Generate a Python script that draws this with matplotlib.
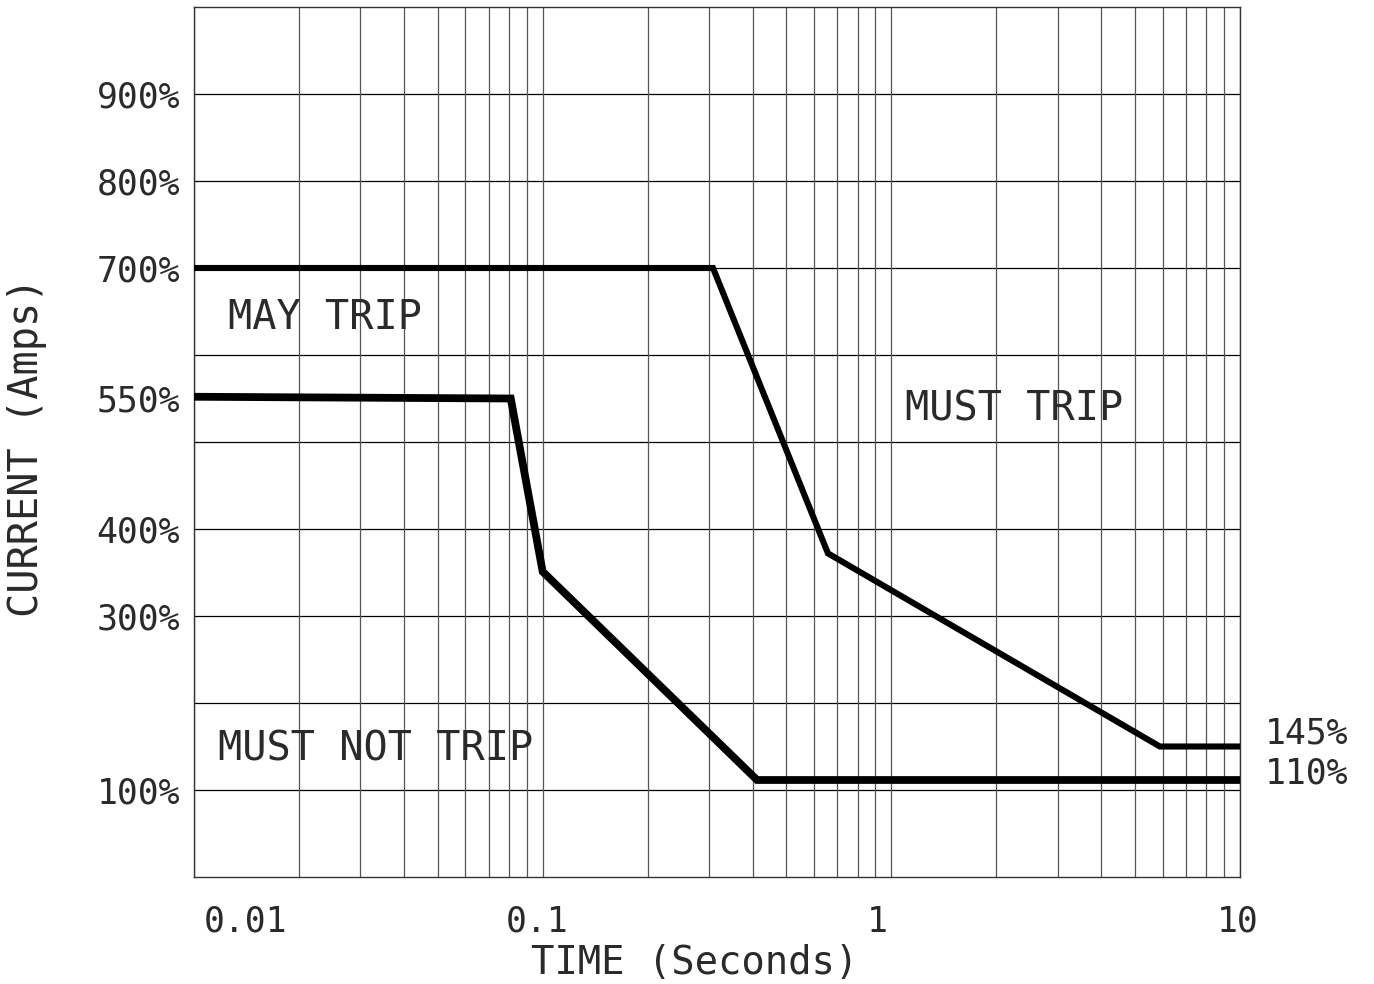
import matplotlib
matplotlib.use("Agg")
import matplotlib.pyplot as plt
import matplotlib.transforms as mtransforms
from matplotlib.ticker import FixedLocator, NullFormatter

# ---- data ----
upper_time = [0.01, 0.308, 0.658, 5.89, 10]
upper_current = [700, 700, 372, 150, 150]

lower_time = [0.01, 0.081, 0.1, 0.412, 10]
lower_current = [552, 550, 351, 111.5, 111.5]

x_ticks = [0.01, 0.1, 1, 10]
x_tick_labels = ["0.01", "0.1", "1", "10"]
y_ticks = [100, 300, 400, 550, 700, 800, 900]
y_tick_labels = ["100%", "300%", "400%", "550%", "700%", "800%", "900%"]
y_grid = [100, 200, 300, 400, 500, 600, 700, 800, 900]
x_minor = [m * d for d in [0.01, 0.1, 1] for m in range(2, 10)]

FONT = ["DejaVu Sans Mono"]
TXT = "#2a2a2a"

fig = plt.figure(figsize=(13.74, 9.84), dpi=100)
ax = fig.add_axes([194/1374, 107/984, (1240-194)/1374, (877-7)/984])

ax.set_xscale("log")
ax.set_xlim(0.01, 10)
ax.set_ylim(0, 1000)

ax.xaxis.set_major_locator(FixedLocator(x_ticks))
ax.xaxis.set_minor_locator(FixedLocator(x_minor))
ax.xaxis.set_minor_formatter(NullFormatter())
ax.set_xticklabels(x_tick_labels, fontfamily=FONT, fontsize=25, color=TXT)
ax.set_yticks(y_ticks)
ax.set_yticklabels(y_tick_labels, fontfamily=FONT, fontsize=25, color=TXT)

ax.tick_params(axis="both", which="both", length=0)
ax.tick_params(axis="x", pad=20)
ax.tick_params(axis="y", pad=10)

ax.grid(True, axis="x", which="both", color="#555555", linewidth=0.9)
for yv in y_grid:
    ax.axhline(yv, color="black", linewidth=0.9, zorder=1)
for s in ax.spines.values():
    s.set_linewidth(1.0)
    s.set_color("#333333")

# shift x tick labels to match reference placement
offsets_px = [52, -6, -14, -2]
for lab, dx in zip(ax.get_xticklabels(), offsets_px):
    lab.set_transform(lab.get_transform() + mtransforms.ScaledTranslation(dx/100, 0, fig.dpi_scale_trans))

ax.plot(upper_time, upper_current, color="black", linewidth=4.4,
        solid_joinstyle="miter", solid_capstyle="butt", clip_on=False, zorder=3)
ax.plot(lower_time, lower_current, color="black", linewidth=5.6,
        solid_joinstyle="miter", solid_capstyle="butt", clip_on=False, zorder=3)

ax.text(0.01252, 642, "MAY TRIP", fontfamily=FONT, fontsize=29, color=TXT,
        ha="left", va="center")
ax.text(1.094, 537, "MUST TRIP", fontfamily=FONT, fontsize=29, color=TXT,
        ha="left", va="center")
ax.text(0.01172, 146, "MUST NOT TRIP", fontfamily=FONT, fontsize=29, color=TXT,
        ha="left", va="center")

fig.text(1265/1374, 1 - 733/984, "145%", fontfamily=FONT, fontsize=25, color=TXT,
         ha="left", va="center")
fig.text(1265/1374, 1 - 773/984, "110%", fontfamily=FONT, fontsize=25, color=TXT,
         ha="left", va="center")

fig.text(695/1374, 1 - 963/984, "TIME (Seconds)", fontfamily=FONT, fontsize=28,
         color=TXT, ha="center", va="center")
fig.text(27/1374, 1 - 447/984, "CURRENT (Amps)", fontfamily=FONT, fontsize=29,
         color=TXT, ha="center", va="center", rotation=90)

fig.savefig("out.png", dpi=100, facecolor="white")
